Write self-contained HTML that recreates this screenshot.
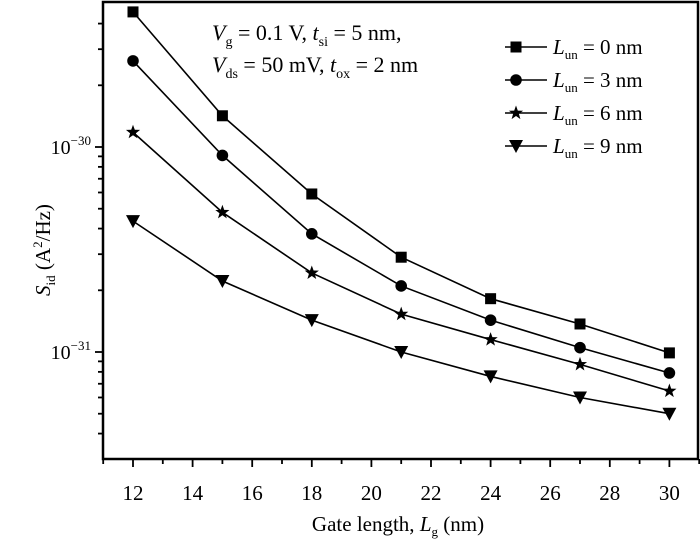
<!DOCTYPE html>
<html><head><meta charset="utf-8"><style>
body{margin:0;background:#fff}
svg{display:block;font-family:"Liberation Serif",serif}
</style></head><body>
<svg id="c" width="700" height="542"></svg>
<script>
const xVals=[12,15,18,21,24,27,30];
const sSquare=[4.56e-30,1.42e-30,5.9e-31,2.9e-31,1.82e-31,1.37e-31,9.9e-32];
const sCircle=[2.63e-30,9.1e-31,3.77e-31,2.1e-31,1.43e-31,1.05e-31,7.9e-32];
const sStar=[1.18e-30,4.8e-31,2.43e-31,1.53e-31,1.15e-31,8.7e-32,6.45e-32];
const sTri=[4.35e-31,2.22e-31,1.43e-31,1.0e-31,7.6e-32,6.0e-32,5.0e-32];
const xTicks=[12,14,16,18,20,22,24,26,28,30];
const seriesNames=["0","3","6","9"];
const NS="http://www.w3.org/2000/svg";
const svg=document.getElementById('c');
const L=103,R=698,T=2,B=459;
function X(v){return 133+(v-12)*29.8;}
function Y(v){return 352-(Math.log10(v)+31)*205;}
function el(t,a,p){const e=document.createElementNS(NS,t);for(const k in a)e.setAttribute(k,a[k]);(p||svg).appendChild(e);return e;}
let f=el('rect',{x:L,y:T,width:R-L,height:B-T,fill:'none',stroke:'#000','stroke-width':2.5});


for(let v=11;v<=31;v++){const t=el('line',{x1:X(v),x2:X(v),y1:B,y2:B+(v%2==0?8:5),stroke:'#000','stroke-width':1.8});

}
xTicks.forEach(v=>{const t=el('text',{x:X(v),y:500,'text-anchor':'middle','font-size':21});t.textContent=v;

});
for(let d=-32;d<=-30;d++){for(let m=1;m<10;m++){const v=m*Math.pow(10,d);const y=Y(v);if(y<T+2||y>B-3)continue;
const t=el('line',{x1:L-(m==1?8:5),x2:L,y1:y,y2:y,stroke:'#000','stroke-width':1.8});

}}
[-30,-31].forEach(d=>{const t=el('text',{x:L-12,y:Y(Math.pow(10,d))+7,'text-anchor':'end','font-size':20});
t.innerHTML='10<tspan dy="-9" font-size="13">\u2212'+(-d)+'</tspan>';

});
let xt=el('text',{x:398,y:531,'text-anchor':'middle','font-size':21});
xt.innerHTML='Gate length, <tspan font-style="italic">L</tspan><tspan dy="5" font-size="13">g</tspan><tspan dy="-5"> (nm)</tspan>';


let yt=el('text',{transform:'translate(50,250) rotate(-90)','text-anchor':'middle','font-size':21});
yt.innerHTML='<tspan font-style="italic">S</tspan><tspan dy="5" font-size="13">id</tspan><tspan dy="-5"> (A</tspan><tspan dy="-8" font-size="13">2</tspan><tspan dy="8">/Hz)</tspan>';


let a1=el('text',{x:212,y:40,'font-size':22});
a1.innerHTML='<tspan font-style="italic">V</tspan><tspan dy="6" font-size="14">g</tspan><tspan dy="-6"> = 0.1 V, </tspan><tspan font-style="italic">t</tspan><tspan dy="6" font-size="14">si</tspan><tspan dy="-6"> = 5 nm,</tspan>';


let a2=el('text',{x:212,y:72,'font-size':22});
a2.innerHTML='<tspan font-style="italic">V</tspan><tspan dy="6" font-size="14">ds</tspan><tspan dy="-6"> = 50 mV, </tspan><tspan font-style="italic">t</tspan><tspan dy="6" font-size="14">ox</tspan><tspan dy="-6"> = 2 nm</tspan>';


function marker(type,x,y,g){
 if(type==0)return el('rect',{x:x-5.5,y:y-5.5,width:11,height:11,fill:'#000'},g);
 if(type==1)return el('circle',{cx:x,cy:y,r:5.8,fill:'#000'},g);
 if(type==2){let p=[];for(let i=0;i<10;i++){const r=i%2?3:7.5,a=-Math.PI/2+i*Math.PI/5;p.push((x+r*Math.cos(a)).toFixed(1)+','+(y+r*Math.sin(a)).toFixed(1));}return el('polygon',{points:p.join(' '),fill:'#000'},g);}
 return el('polygon',{points:`${x-7},${y-6} ${x+7},${y-6} ${x},${y+7}`,fill:'#000'},g);
}
const all=[sSquare,sCircle,sStar,sTri];
const names=['square','circle','star','triangle'];
all.forEach((s,k)=>{
 const g=el('g',{});
 
 
 const ln=el('polyline',{points:s.map((v,i)=>X(xVals[i])+','+Y(v)).join(' '),fill:'none',stroke:'#000','stroke-width':1.6},g);
 
 
 s.forEach((v,i)=>{const m=marker(k,X(xVals[i]),Y(v),g);
 
 });
 const ly=47+k*33;
 const lg=el('g',{});
 
 
 el('line',{x1:505,x2:547,y1:ly,y2:ly,stroke:'#000','stroke-width':1.6},lg);
 marker(k,516,ly,lg);
 const t=el('text',{x:553,y:ly+7,'font-size':21},lg);
 t.innerHTML='<tspan font-style="italic">L</tspan><tspan dy="5" font-size="13">un</tspan><tspan dy="-5"> = '+seriesNames[k]+' nm</tspan>';
});
</script>
</body></html>
